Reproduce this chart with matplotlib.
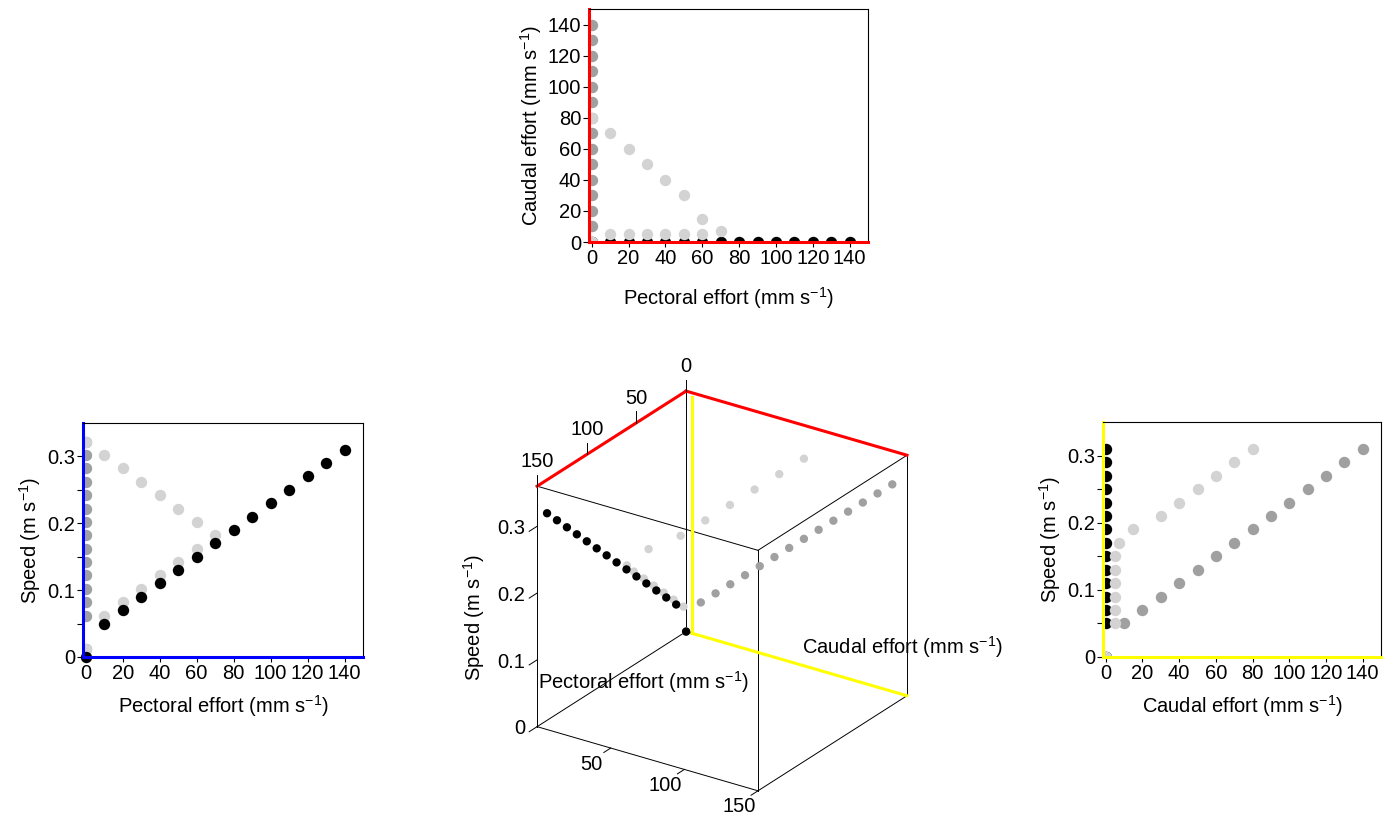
import itertools
import matplotlib
matplotlib.use("Agg")
import matplotlib.pyplot as plt

plt.rcParams['font.family'] = ['Liberation Sans', 'DejaVu Sans']
plt.rcParams['mathtext.fontset'] = 'custom'
plt.rcParams['mathtext.rm'] = 'Liberation Sans'
plt.rcParams['mathtext.it'] = 'Liberation Sans'
plt.rcParams['font.size'] = 14.5

W, H = 1392, 817
FS = 14.5
BLACK = 'black'
DARK = '#a0a0a0'
LIGHT = '#d3d3d3'

# pectoral-only gait (black)
pect_black = [0, 10, 20, 30, 40, 50, 60, 70, 80, 90, 100, 110, 120, 130, 140]
caudal_black = [0, 0, 0, 0, 0, 0, 0, 0, 0, 0, 0, 0, 0, 0, 0]
speed_black = [0, 0.05, 0.07, 0.09, 0.11, 0.13, 0.15, 0.17, 0.19, 0.21,
               0.23, 0.25, 0.27, 0.29, 0.31]

# caudal-only gait (dark grey)
pect_dark = [0, 0, 0, 0, 0, 0, 0, 0, 0, 0, 0, 0, 0, 0, 0]
caudal_dark = [0, 10, 20, 30, 40, 50, 60, 70, 80, 90, 100, 110, 120, 130, 140]
speed_dark = [0, 0.05, 0.07, 0.09, 0.11, 0.13, 0.15, 0.17, 0.19, 0.21,
              0.23, 0.25, 0.27, 0.29, 0.31]

# combined gait (light grey)
pect_light = [0, 10, 20, 30, 40, 50, 60, 70, 60, 50, 40, 30, 20, 10, 0]
caudal_light = [0, 5, 5, 5, 5, 5, 5, 7, 15, 30, 40, 50, 60, 70, 80]
speed_light = [0, 0.05, 0.07, 0.09, 0.11, 0.13, 0.15, 0.17, 0.19, 0.21,
               0.23, 0.25, 0.27, 0.29, 0.31]

# the speed / pectoral panel draws the grey gaits a little higher
speed_dark_pv = [0.012, 0.062, 0.082, 0.102, 0.122, 0.142, 0.162, 0.182,
                 0.202, 0.222, 0.242, 0.262, 0.282, 0.302, 0.322]
speed_light_pv = [0.012, 0.062, 0.082, 0.102, 0.122, 0.142, 0.162, 0.182,
                  0.202, 0.222, 0.242, 0.262, 0.282, 0.302, 0.322]

effort_ticks = [0, 20, 40, 60, 80, 100, 120, 140]
speed_ticks = [0, 0.1, 0.2, 0.3]
speed_tick_labels = ['0', '0.1', '0.2', '0.3']
speed_minor = [0.05, 0.15, 0.25]
cube_ticks = [0, 50, 100, 150]

LAB_PECT = 'Pectoral effort (mm s$^{-1}$)'
LAB_CAUD = 'Caudal effort (mm s$^{-1}$)'
LAB_SPEED = 'Speed (m s$^{-1}$)'

MS = 8.2


def px_rect(left, top, right, bottom):
    return [left / W, 1 - bottom / H, (right - left) / W, (bottom - top) / H]


def style_2d(ax, edge_color, xlabel, ylabel, xpad):
    for side in ('left', 'bottom'):
        ax.spines[side].set_color(edge_color)
        ax.spines[side].set_linewidth(2.2)
    for side in ('top', 'right'):
        ax.spines[side].set_linewidth(0.8)
    ax.set_xticks(effort_ticks)
    ax.tick_params(axis='x', direction='out', length=3.5, width=0.8, pad=1.5,
                   labelsize=FS)
    ax.tick_params(axis='y', which='both', direction='out', length=4,
                   width=0.8, pad=1.5, labelsize=FS)
    ax.set_xlabel(xlabel, fontsize=FS, labelpad=xpad)
    ax.set_ylabel(ylabel, fontsize=FS, labelpad=3)


def dots(ax, x, y, color, z, clip=True):
    ax.plot(x, y, 'o', color=color, markersize=MS, markeredgewidth=0,
            zorder=z, clip_on=clip)


fig = plt.figure(figsize=(W / 100, H / 100), dpi=100)

# top: caudal vs pectoral effort
ax_top = fig.add_axes(px_rect(589, 9, 868, 242))
dots(ax_top, pect_black, caudal_black, BLACK, 2)
dots(ax_top, pect_dark, caudal_dark, DARK, 2.1)
dots(ax_top, pect_light, caudal_light, LIGHT, 2.2)
ax_top.set_xlim(-1.5, 150)
ax_top.set_ylim(0, 150)
ax_top.set_yticks(effort_ticks)
style_2d(ax_top, 'red', LAB_PECT, LAB_CAUD, 12)

# left: speed vs pectoral effort
ax_left = fig.add_axes(px_rect(83, 423, 363, 657))
dots(ax_left, pect_dark, speed_dark_pv, DARK, 2)
dots(ax_left, pect_light, speed_light_pv, LIGHT, 2.1)
dots(ax_left, pect_black, speed_black, BLACK, 2.2, clip=False)
ax_left.set_xlim(-1.5, 150)
ax_left.set_ylim(0, 0.35)
ax_left.set_yticks(speed_ticks, speed_tick_labels)
ax_left.set_yticks(speed_minor, minor=True)
style_2d(ax_left, 'blue', LAB_PECT, LAB_SPEED, 7)

# right: speed vs caudal effort
ax_right = fig.add_axes(px_rect(1103, 422, 1381, 657))
dots(ax_right, caudal_dark, speed_dark, DARK, 2)
dots(ax_right, caudal_black, speed_black, BLACK, 2.1)
dots(ax_right, caudal_light, speed_light, LIGHT, 2.2)
ax_right.set_xlim(-1.5, 150)
ax_right.set_ylim(0, 0.35)
ax_right.set_yticks(speed_ticks, speed_tick_labels)
ax_right.set_yticks(speed_minor, minor=True)
style_2d(ax_right, '#ffff00', LAB_CAUD, LAB_SPEED, 7)

# centre: 3-D view, axes drawn by hand on the cube edges
P_MAX, C_MAX, S_MAX = 150, 150, 0.36
side = 448
cx, cy = 716, 597
ax3 = fig.add_axes(px_rect(cx - side / 2, cy - side / 2, cx + side / 2, cy + side / 2),
                   projection='3d', computed_zorder=False)
ax3.set_proj_type('ortho')
ax3.view_init(elev=25.5, azim=34)
ax3.set_box_aspect((1, 1, 1))
ax3.set_xlim(0, P_MAX)
ax3.set_ylim(0, C_MAX)
ax3.set_zlim(0, S_MAX)
ax3.set_xticks([])
ax3.set_yticks([])
ax3.set_zticks([])
for axis in (ax3.xaxis, ax3.yaxis, ax3.zaxis):
    axis.label.set_visible(False)
    axis.offsetText.set_visible(False)
for t in (ax3.title, ax3._left_title, ax3._right_title):
    t.set_visible(False)
ax3.set_axis_off()
ax3.patch.set_alpha(0)

lims = [(0, P_MAX), (0, C_MAX), (0, S_MAX)]
for dim in range(3):
    others = [d for d in range(3) if d != dim]
    for a, b in itertools.product(lims[others[0]], lims[others[1]]):
        pts = [[0, 0], [0, 0], [0, 0]]
        pts[dim] = list(lims[dim])
        pts[others[0]] = [a, a]
        pts[others[1]] = [b, b]
        ax3.plot(*pts, color='black', lw=0.7, zorder=1)

# coloured plane edges
ax3.plot([0, P_MAX], [0, 0], [S_MAX, S_MAX], color='red', lw=2.2, zorder=1.5)
ax3.plot([0, 0], [0, C_MAX], [S_MAX, S_MAX], color='red', lw=2.2, zorder=1.5)
ax3.plot([0, 0], [4, 4], [0, S_MAX - 0.007], color='#ffff00', lw=2.2, zorder=1.5)
ax3.plot([0, 0], [4, C_MAX], [0, 0], color='#ffff00', lw=2.2, zorder=1.5)

# ticks
for p in cube_ticks:
    ax3.plot([p, p], [0, 0], [S_MAX, S_MAX + 0.017], color='black', lw=0.7)
    ax3.text(p, 0, S_MAX + 0.037, str(p), ha='center', va='center', fontsize=FS)
for s, lab in zip(speed_ticks, speed_tick_labels):
    ax3.plot([P_MAX, P_MAX + 8], [0, 0], [s, s], color='black', lw=0.7)
    ax3.text(P_MAX + 12, 0, s + 0.008, lab, ha='right', va='center', fontsize=FS)
for c in cube_ticks[1:]:
    ax3.plot([P_MAX, P_MAX + 7], [c, c], [0, 0], color='black', lw=0.7)
    ax3.text(P_MAX + 19, c, -0.006, str(c), ha='center', va='center', fontsize=FS)

ax3.scatter(pect_light, caudal_light, speed_light, s=36, c=LIGHT,
            edgecolors='none', depthshade=False, zorder=3)
ax3.scatter(pect_dark, caudal_dark, speed_dark, s=36, c=DARK,
            edgecolors='none', depthshade=False, zorder=3.1)
ax3.scatter(pect_black, caudal_black, speed_black, s=36, c=BLACK,
            edgecolors='none', depthshade=False, zorder=3.2)

fig.text(474 / W, 1 - 617 / H, LAB_SPEED, rotation=90, ha='center', va='center', fontsize=FS)
fig.text(643 / W, 1 - 682 / H, LAB_PECT, ha='center', va='center', fontsize=FS)
fig.text(902 / W, 1 - 647 / H, LAB_CAUD, ha='center', va='center', fontsize=FS)

fig.savefig('out.png', dpi=100)
